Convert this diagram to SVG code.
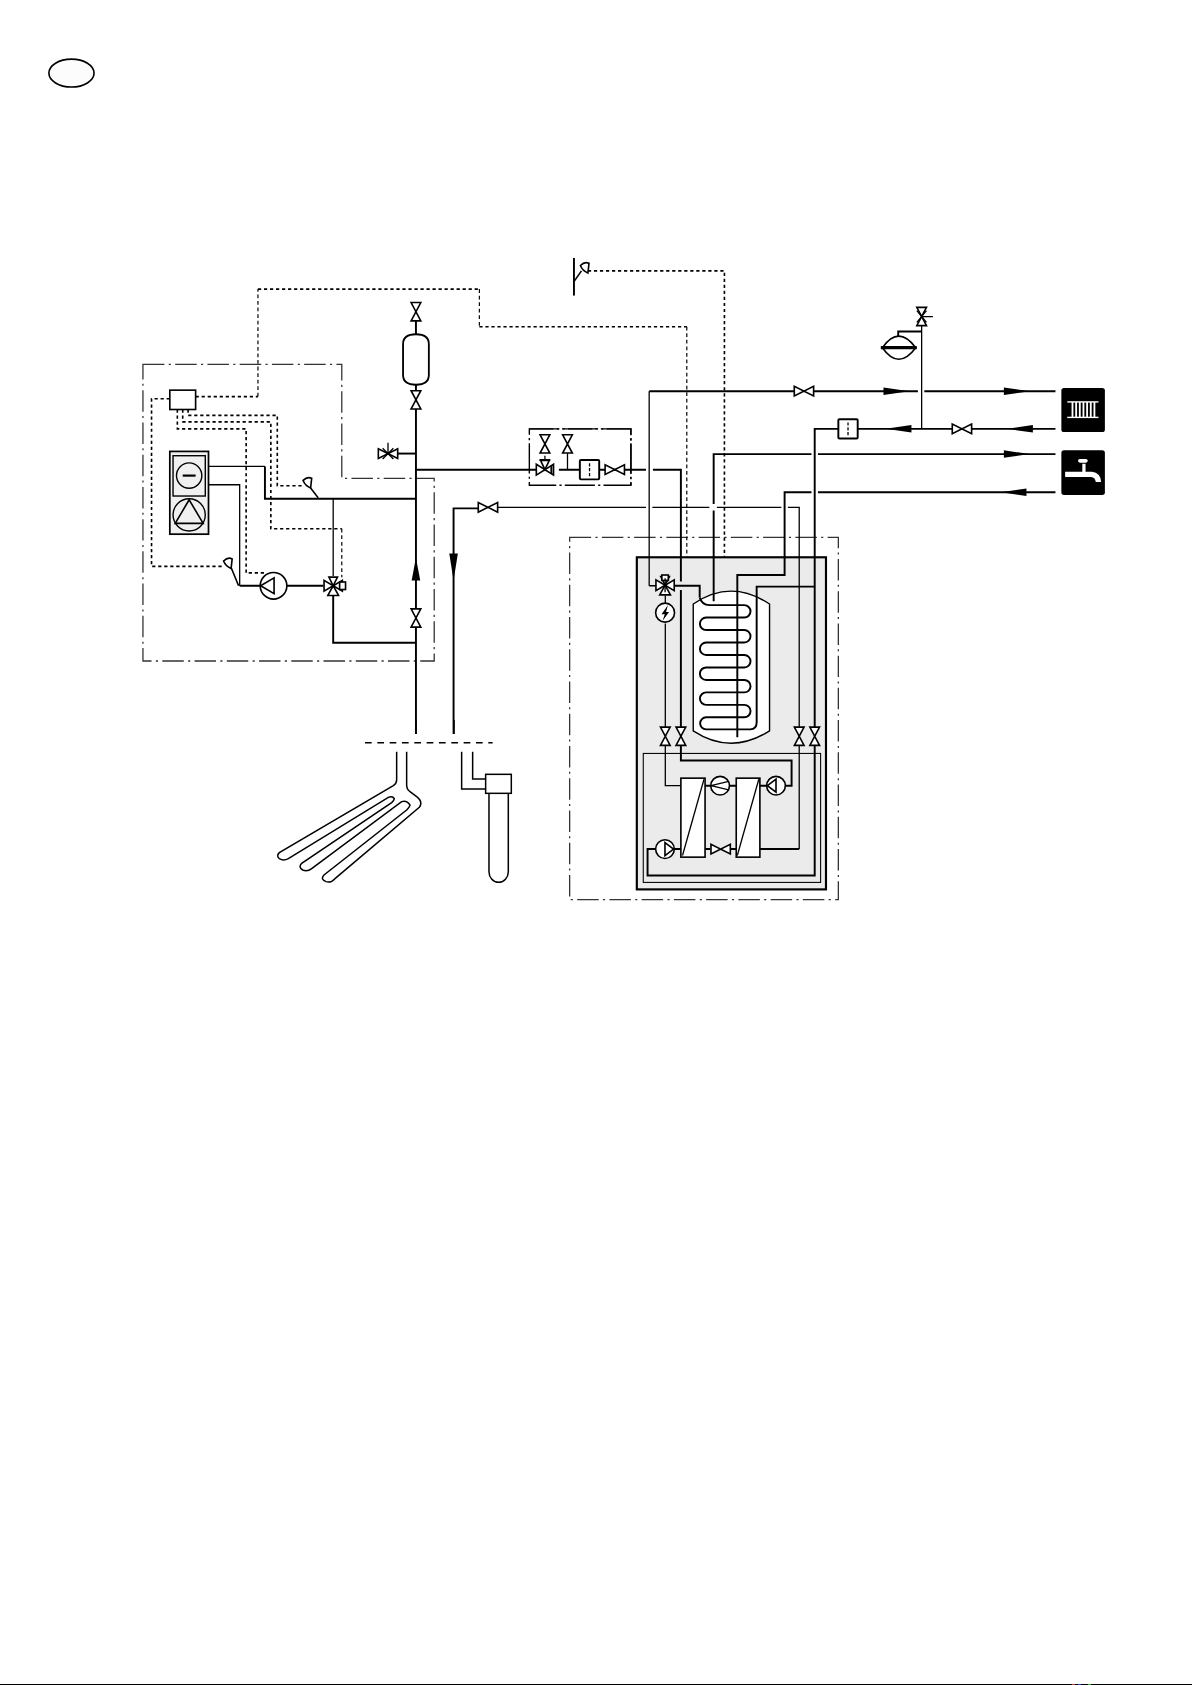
<svg xmlns="http://www.w3.org/2000/svg" width="1192" height="1685" viewBox="0 0 1192 1685">
<style>
.p{fill:none;stroke:#000;stroke-width:1.8}
.t{fill:none;stroke:#000;stroke-width:1.2}
.d{fill:none;stroke:#000;stroke-width:1.5;stroke-dasharray:3 2.6}
.dt{fill:none;stroke:#000;stroke-width:1.1;stroke-dasharray:3.5 2.6}
.b{fill:none;stroke:#333;stroke-width:1.2;stroke-dasharray:20 4 2 4}
.s{fill:#fff;stroke:#000;stroke-width:1.5}
.n{fill:none;stroke:#000;stroke-width:1.5}
.f{fill:#000;stroke:none}
.w{fill:#fff;stroke:none}
</style>
<defs>
<path id="vv" class="s" d="M-4.500-8.500H4.500L-4.500 8.500H4.500Z"/>
<path id="vh" class="s" d="M-9-4.500V4.500L9-4.500V4.500Z"/>
<path id="ar" class="f" d="M0-3.500L24 0L0 3.500Z"/>
<path id="al" class="f" d="M0 0L24-3.500V3.500Z"/>
<g id="way3">
<path class="s" d="M-8.500-5V5L0 0Z"/><path class="s" d="M8.500-5V5L0 0Z"/>
<path class="s" d="M-4-8H4L0 0Z"/><path class="s" d="M-5 9H5L0 0Z"/>
</g>
<g id="pl"><circle class="s" r="8.700"/><path class="n" d="M-8 0L0-6V6Z"/></g>
<g id="pr"><circle class="s" r="8.700"/><path class="n" d="M8 0L0-6V6Z"/></g>
<g id="sensor"><path class="s" d="M-4-3Q0-7 4-5L3 4Q-2 2-4-3Z"/></g>
<g id="filter"><rect class="s" x="-9" y="-9" width="18" height="18" rx="1" style="stroke-width:1.800"/><path class="t" stroke-dasharray="3 1.500" d="M0-6V6"/></g>
</defs>
<rect width="1192" height="1685" fill="#fff"/>
<g transform="scale(1.0748)">
<g id="badge"><ellipse cx="66.500" cy="68" rx="21" ry="13" fill="#fbfcfb" stroke="#000" stroke-width="1.500"/></g>
<g id="zones">
<path class="b" d="M133 339H318V445H404V615H133Z"/>
<path class="b" style="stroke:#000;stroke-width:1.300;stroke-dasharray:28 3 2 3" d="M587 399H492.500V451.500H587Z"/>
<path class="b" style="stroke:#000;stroke-width:1.300;stroke-dasharray:28 3 2 3" d="M492.500 399H587V451.500"/>
<path class="b" d="M530 500H780V837H530Z"/>
</g>
<g id="unit">
<rect x="592.500" y="518.500" width="176" height="309" fill="#ebebeb" stroke="#000" stroke-width="2"/>
<rect x="598.500" y="701" width="165" height="120" fill="none" stroke="#000" stroke-width="1"/>
</g>
<g id="tank">
<path d="M645 562Q680 538 716 562V680Q680 703 645 680Z" fill="#fff" stroke="#000" stroke-width="1.300"/>
<path class="p" d="M651 556Q653 563 660 563H692.500A5.800 5.800 0 0 1 692.500 574.600H657A5.800 5.800 0 0 0 657 586.200H692.500A5.800 5.800 0 0 1 692.500 597.800H657A5.800 5.800 0 0 0 657 609.400H692.500A5.800 5.800 0 0 1 692.500 621H657A5.800 5.800 0 0 0 657 632.600H692.500A5.800 5.800 0 0 1 692.500 644.200H657A5.800 5.800 0 0 0 657 655.800H692.500A5.800 5.800 0 0 1 692.500 667.400H657A5.600 5.600 0 0 0 657 678.600H698Q704 678.600 704 672V545.800H758"/>
</g>
<g id="connectors">
<path class="p" d="M387 296V683"/>
<path class="p" d="M422 683V473H447"/>
<path class="t" d="M461 472H601M607 472H660M667 472H727M733 472H743.600V677"/>
<path class="p" d="M387 437H500M520 437H601M607.500 437H633.500V541M633.500 549V677"/>
<path class="p" d="M246.500 434V464H387M310 553V598H387"/>
<path class="t" d="M191 434H246.500M191 451H223V545"/>
<path class="p" d="M223 545H242M267 545H301"/>
<path class="t" d="M310 464V536"/>
<path class="p" d="M370 422H387"/>
<path class="t" d="M507 424V430M528 421V437"/>
<path class="t" d="M604 545V364M604 545H611"/>
<path class="p" d="M604 364H740M757 364H854M860 364H982"/>
<path class="p" d="M982 399H904M886 399H798M780 399H758V677"/>
<path class="t" d="M857.500 399V302"/><path class="p" d="M857.500 308.500H835.700V315"/>
<path class="p" d="M982 422.500H761M755 422.500H664V469M664 475V559.500"/>
<path class="p" d="M982 458H761M755 458H730V535H686V686"/>
<path class="p" d="M627 545H651V556"/>
<path class="t" d="M619 561V554M619 580V677M619 693V731H633.500"/>
<path class="p" d="M633.500 693V707.600H736.500V731H731"/>
<path class="p" d="M656 731H661M679 731H685M707 731H713"/>
<path class="p" d="M707 790H743.600"/><path class="t" d="M743.600 790V693"/>
<path class="p" d="M758 693V814.600H602.500V790H610M627 790H633.500M656 790H661M680 790H685"/>
<path class="d" d="M158 371H141V527H207"/>
<path class="d" d="M182 369H240"/><path class="dt" d="M240 369V269"/><path class="d" d="M240 269H446"/><path class="dt" d="M446 269V304"/><path class="d" d="M446 304H639"/><path class="dt" d="M639 304V518"/>
<path class="d" d="M165 381V399H229V533H246"/>
<path class="d" d="M170 381V392.500H252V492H318"/><path class="dt" d="M318 492V537"/>
<path class="d" d="M175 381V386.500H258V452H282"/>
<path class="d" d="M547 252H674V518"/>
<use href="#ar" x="822" y="364"/><use href="#ar" x="934" y="364"/><use href="#ar" x="934" y="422.500"/>
<use href="#al" x="824" y="399"/><use href="#al" x="937" y="399"/><use href="#al" x="931" y="458"/>
<path class="f" d="M387 519L391 540H383Z"/><path class="f" d="M422 540L418 515H426Z"/>
</g>
<g id="ctrl-box"><rect x="158" y="363" width="24" height="18" class="s"/></g>
<g id="heat-pump-unit">
<rect x="158" y="420" width="36" height="77" fill="#f0f0f0" stroke="#000" stroke-width="1.600"/>
<rect x="161" y="424" width="30" height="37.500" fill="#f0f0f0" stroke="#000" stroke-width="1.300"/>
<circle cx="176" cy="442.500" r="11.800" fill="#f0f0f0" stroke="#000" stroke-width="1.300"/>
<path d="M170 442.500H182" stroke="#000" stroke-width="2"/>
<circle cx="176" cy="479" r="15" fill="#f0f0f0" stroke="#000" stroke-width="1.300"/>
<path class="n" d="M176 465L163 487H189Z"/>
</g>
<g id="pump-left"><circle class="s" cx="254.500" cy="545" r="12.400"/><path class="n" d="M242.500 545L255 537.700V552.300Z"/></g>
<g id="valve-3way-left"><use href="#way3" x="310" y="545"/><rect class="s" x="316" y="541.500" width="5.500" height="7"/></g>
<g id="sensors">
<use href="#sensor" x="212" y="525"/><path class="n" d="M215 528L222 545"/>
<use href="#sensor" x="286" y="450"/><path class="n" d="M289 454L296 463"/>
<use href="#sensor" x="544" y="250"/><path class="n" d="M534 262L541 252"/><path class="p" d="M534 240V275"/>
</g>
<g id="vessel"><path d="M375 320Q375 311 387 311Q399 311 399 320V349Q399 358 387 358Q375 358 375 349Z" fill="#fff" stroke="#000" stroke-width="1.700"/></g>
<g id="valves">
<use href="#vv" x="387" y="290"/><use href="#vv" x="387" y="372"/><use href="#vv" x="387" y="575"/>
<use href="#vh" x="361" y="422"/><path class="t" d="M361 412V422M356 417L366 427M366 417L356 427"/>
<use href="#vv" x="507" y="413"/><use href="#vv" x="528" y="413"/>
<use href="#vh" x="572" y="437"/>
<use href="#vh" x="748" y="364"/><use href="#vh" x="895" y="399"/>
<use href="#vh" x="454" y="472"/>
<use href="#vv" x="857.500" y="294.500"/><path class="t" d="M853 289L862 300M862 289L853 300M857.500 294.500H868"/>
<use href="#vv" x="619" y="685"/><use href="#vv" x="633.500" y="685"/><use href="#vv" x="743.600" y="685"/><use href="#vv" x="758" y="685"/>
<use href="#vh" x="670.500" y="790"/>
</g>
<g id="safety-valve">
<path class="s" d="M499 432V442L507 437Z"/><path class="s" d="M515 432V442L507 437Z"/><path class="s" d="M503 428.500H511L507 437Z"/><path class="p" d="M502 428H512M513 433V441"/>
</g>
<g id="filters"><use href="#filter" x="548.500" y="437"/><use href="#filter" x="789" y="399"/></g>
<g id="exp-vessel"><path class="s" d="M821 323.500Q836 302 852 323.500Q836 345 821 323.500Z"/><path d="M819.500 323.500H853" stroke="#000" stroke-width="3"/></g>
<g id="valve-3way-unit">
<use href="#way3" x="618.800" y="544.500"/><rect class="s" x="615.800" y="535" width="6" height="5"/>
<path class="t" d="M618.800 538V551"/>
</g>
<g id="heater"><circle class="s" cx="618.800" cy="570" r="8.800"/><path class="f" d="M621.500 563L615.500 571.500H618.500L616.500 577.500L622.500 569.500H619.700Z"/></g>
<g id="hx1"><rect class="s" x="633.500" y="724" width="22.500" height="73.500"/><path class="t" d="M635 796L655 725"/></g>
<g id="hx2"><rect class="s" x="685" y="724" width="22" height="73.500"/><path class="t" d="M686 796L706 725"/></g>
<g id="compressor"><circle class="s" cx="670" cy="731" r="8.700"/><path class="t" d="M661.500 731L678 727M661.500 731L678 735"/></g>
<g id="pump-2"><use href="#pl" x="722" y="731"/></g>
<g id="pump-3"><use href="#pr" x="618.700" y="790"/></g>
<g id="radiator-icon">
<rect x="987.500" y="361" width="40.500" height="41" rx="2.500" fill="#000"/>
<g fill="#fff"><rect x="993" y="373.300" width="29" height="1.300"/><rect x="993" y="387.700" width="29" height="1.300"/>
<rect x="997" y="374" width="1.700" height="14"/><rect x="1000.400" y="374" width="1.700" height="14"/><rect x="1003.800" y="374" width="1.700" height="14"/><rect x="1007.200" y="374" width="1.700" height="14"/><rect x="1010.600" y="374" width="1.700" height="14"/><rect x="1014" y="374" width="1.700" height="14"/><rect x="1017.400" y="374" width="1.700" height="14"/></g>
</g>
<g id="tap-icon">
<rect x="987.500" y="419" width="40.500" height="41.500" rx="2.500" fill="#000"/>
<path class="w" d="M991 439H1007V431.500H1010V439H1016Q1024 440 1024.500 448.500H1019.500Q1019 444 1015 443.800H991Z"/>
<rect class="w" x="1003" y="427" width="9" height="3.500" rx="1.700"/>
</g>
</g>
<g id="ground-loop" transform="translate(260 720) scale(.3333)" fill="none" stroke="#000" stroke-width="4.500">
<path d="M468 0V42M582 0V42"/>
<path stroke-dasharray="20 17" d="M315 68H698"/>
<path d="M410 95V180Q410 190 400 197L58 398Q48 408 58 416Q70 424 85 416L385 232Q398 227 403 236Q402 242 395 248L125 430Q114 442 128 450Q142 456 155 446L425 245Q440 240 450 255Q450 260 440 270L192 465Q180 478 198 485Q212 490 225 476L478 262Q490 245 470 230L450 215Q440 208 440 195V95"/>
<path d="M605 95V207H677M638 95V177H677"/>
<rect x="677" y="163" width="77" height="57" fill="#fff"/>
<path d="M687 220V455A29 32 0 0 0 745 455V220"/>
</g>
<g id="page-edge"><rect y="1684" width="1192" height="1" fill="#000"/><rect x="1072" y="1684" width="3" height="1" fill="#c33"/><rect x="1078" y="1684" width="3" height="1" fill="#33c"/><rect x="1088" y="1684" width="3" height="1" fill="#3a3"/></g>
</svg>
